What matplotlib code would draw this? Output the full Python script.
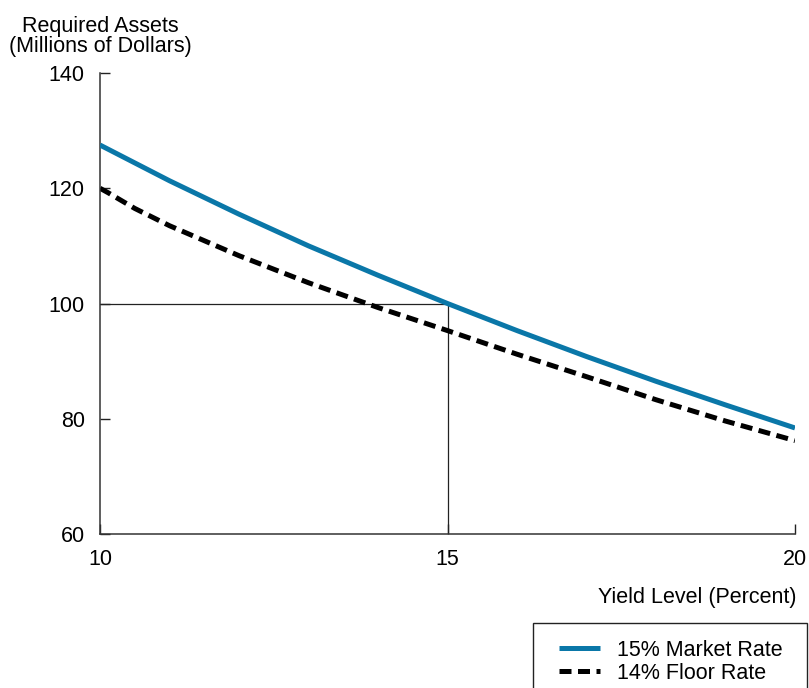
import numpy as np
import matplotlib.pyplot as plt
from matplotlib.patches import Rectangle

plt.rcParams['font.family'] = ['Liberation Sans', 'DejaVu Sans']

# values
yield_level = [10, 11, 12, 13, 14, 15, 16, 17, 18, 19, 20]
market_rate = [127.5, 121.3, 115.5, 110.0, 104.9, 100.0, 95.3, 90.8, 86.5, 82.4, 78.4]
floor_x = [10, 10.12, 10.5, 11, 12, 13, 14, 15, 16, 17, 18, 19, 20]
floor_rate = [120.0, 119.2, 116.5, 113.5, 108.3, 103.6, 99.3, 95.3, 91.2, 87.3, 83.3, 79.6, 76.2]
x_ticks = [10, 15, 20]
y_ticks = [60, 80, 100, 120, 140]
ref_x, ref_y = 15, 100

fs = 15.5
blue = '#0a77a8'
W, H = 809, 688

fig = plt.figure(figsize=(W / 100, H / 100), dpi=100)
ax = fig.add_axes([100/W, 1 - 534/H, 695/W, (534 - 73)/H])

# reference lines at (15, 100)
ax.plot([10, ref_x], [ref_y, ref_y], color='#222222', lw=0.9, zorder=1)
ax.plot([ref_x, ref_x], [60, ref_y], color='#222222', lw=0.9, zorder=1)

ax.plot(yield_level, market_rate, color=blue, lw=3.6, solid_capstyle='butt',
        label='15% Market Rate', zorder=3)
ax.plot(floor_x, floor_rate, color='black', lw=3.6, linestyle=(0, (2.4, 1.3)),
        dash_capstyle='butt', label='14% Floor Rate', zorder=2)

ax.set_xlim(10, 20)
ax.set_ylim(60, 140)
ax.set_xticks(x_ticks)
ax.set_yticks(y_ticks)
ax.tick_params(direction='in', length=7.5, width=1, colors='#222222',
               labelsize=fs, labelcolor='black')
ax.tick_params(axis='y', pad=11)
ax.tick_params(axis='x', pad=11)
for side in ['top', 'right']:
    ax.spines[side].set_visible(False)
for side in ['left', 'bottom']:
    ax.spines[side].set_linewidth(1.1)
    ax.spines[side].set_color('#333333')

fig.text(100/W, 1 - 16/H, 'Required Assets\n(Millions of Dollars)',
         ha='center', va='top', fontsize=fs, linespacing=0.95)
fig.text(797/W, 1 - 598/H, 'Yield Level (Percent)',
         ha='right', va='center', fontsize=fs)

# legend box runs off the bottom edge, as in the original
fig.patches.append(Rectangle((533/W, -0.1), (807 - 533)/W, 0.1 + 1 - 623/H,
                             transform=fig.transFigure, fill=False,
                             edgecolor='#222222', lw=1.0))
fig.legend(loc='upper left', bbox_to_anchor=(559/W, 1 - 640/H),
           fontsize=fs, frameon=False, borderpad=0, handlelength=1.9,
           handletextpad=0.8, labelspacing=0.08, borderaxespad=0)

fig.savefig('out.png', dpi=100)
